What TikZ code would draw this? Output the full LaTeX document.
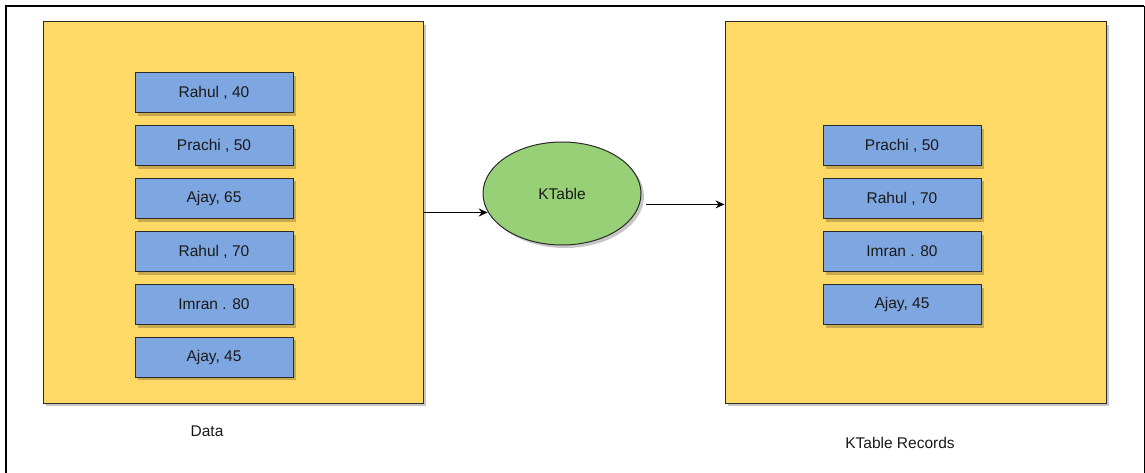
\documentclass[tikz,border=0pt]{standalone}
\usepackage{fontspec}
\setmainfont{Liberation Sans}
\usetikzlibrary{shapes.geometric,shadows,arrows.meta,calc}
\definecolor{yel}{HTML}{FFD966}
\definecolor{blu}{HTML}{7EA6E0}
\definecolor{grn}{HTML}{97D077}
\definecolor{txt}{HTML}{1A1A1A}
\definecolor{edge}{HTML}{2B2B2B}
\tikzset{
  shd/.style={drop shadow={shadow xshift=3pt,shadow yshift=-3pt,fill=black,opacity=0.22}},
  panel/.style={draw=edge,line width=1pt,fill=yel,shd,minimum width=380pt,minimum height=381pt,inner sep=0pt},
  rec/.style={draw=edge,line width=1pt,fill=blu,shd,minimum width=158pt,minimum height=40pt,inner sep=0pt,
    font=\fontsize{15.5pt}{18pt}\selectfont,text=txt},
  oval/.style={ellipse,draw=edge,line width=1pt,fill=grn,shd,minimum width=158pt,minimum height=103pt,inner sep=0pt,
    font=\fontsize{15.5pt}{18pt}\selectfont,text=txt},
  lbl/.style={font=\fontsize{15.5pt}{18pt}\selectfont,text=txt,inner sep=0pt},
  conn/.style={line width=1pt,draw=black,-{Stealth[length=9pt,width=8pt]}},
  frame/.style={line width=2pt,draw=black}
}
\begin{document}
\begin{tikzpicture}[x=1pt,y=-1pt]
\useasboundingbox (0,0) rectangle (1145,473);
% outer frame
\coordinate (f1) at (6,474);
\coordinate (f2) at (6,6);
\coordinate (f3) at (1144,6);
\coordinate (f4) at (1144,474);
\draw[frame] (f1) -- (f2) -- (f3);
\draw[line width=1pt] (f3) -- (f4);
% panels
\node[panel] (L) at (233,212.5) {};
\node[panel,minimum width=381pt] (R) at (915.5,212.5) {};
% left records
\node[rec] (l1) at (214,93) {Rahul , 40};
\node[rec] (l2) at (214,146) {Prachi , 50};
\node[rec] (l3) at (214,198.5) {Ajay, 65};
\node[rec] (l4) at (214,251.5) {Rahul , 70};
\node[rec] (l5) at (214,304.5) {Imran . 80};
\node[rec] (l6) at (214,357) {Ajay, 45};
% right records
\node[rec] (r1) at (902,146) {Prachi , 50};
\node[rec] (r2) at (902,198.5) {Rahul , 70};
\node[rec] (r3) at (902,251.5) {Imran . 80};
\node[rec] (r4) at (902,304.5) {Ajay, 45};
% KTable
\node[oval] (K) at (562,193.5) {KTable};
% labels
\node[lbl] (dl) at (207,431) {Data};
\node[lbl] (kl) at (900,443) {KTable Records};
% connectors
\draw[conn] (L.east) -- (L.east -| K.194.6);
\coordinate (ks) at ([xshift=6pt]K.-8);
\draw[conn] (ks) -- (ks -| R.west);
\end{tikzpicture}
\end{document}
